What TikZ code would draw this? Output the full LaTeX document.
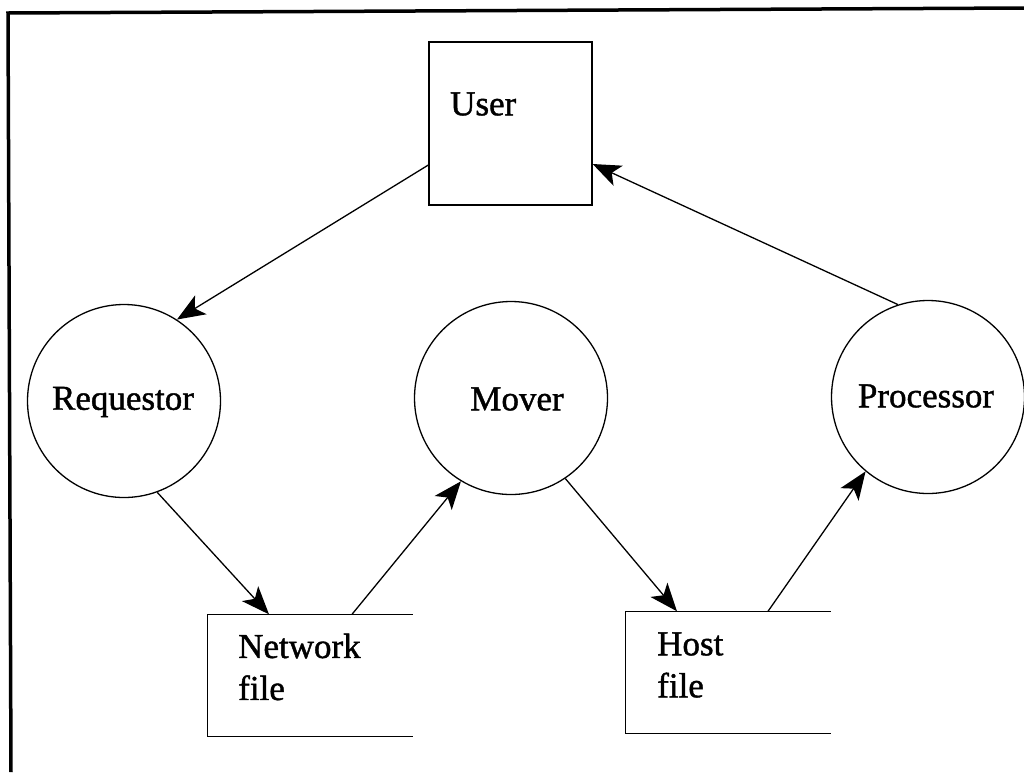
\documentclass[tikz,border=0pt]{standalone}
\usepackage{fontspec}
\setmainfont[FakeBold=1.2]{Liberation Serif}
\newfontfamily\heavyserif[FakeBold=1.2]{Liberation Serif}
\usetikzlibrary{arrows.meta,calc}
\begin{document}
\begin{tikzpicture}[x=1pt,y=-1pt,
  every node/.style={font=\heavyserif\fontsize{35}{42}\selectfont},
  proc/.style={circle,draw,line width=1.3pt,minimum size=193pt,inner sep=0pt},
  userbox/.style={rectangle,draw,line width=1.3pt,minimum width=163pt,minimum height=163pt,inner sep=0pt},
  filebox/.style={rectangle,minimum width=205pt,minimum height=122pt,inner sep=0pt},
  openside/.style={line width=1.3pt},
  lbl/.style={anchor=west,align=left,inner sep=0pt},
  flow/.style={line width=1.3pt,-{Stealth[length=28pt,width=22pt,inset=7pt]}},
  frame/.style={line width=3.5pt}]
\useasboundingbox (0,0) rectangle (1024,772);
% outer frame (top and left edges visible)
\coordinate (fc) at (8,13);
\coordinate (ftr) at (1024,8);
\coordinate (fbl) at (11,772);
\draw[frame] (ftr) -- (fc) -- (fbl);
% nodes
\node[userbox] (user) at (510.5,123.5) {};
\node[lbl] (userlbl) at (450,104) {User};
\node[proc] (req) at (124,401) {};
\node (reqlbl) at (123,402) {Requestor};
\node[proc] (mov) at (511,398) {};
\node (movlbl) at (517,399) {Mover};
\node[proc] (pro) at (928,397) {};
\node (prolbl) at (926,396) {Processor};
\node[filebox] (net) at (310,675.5) {};
\draw[openside] (net.north east) -- (net.north west) -- (net.south west) -- (net.south east);
\node[lbl] (netlbl) at (238,667) {Network\\file};
\node[filebox] (host) at (728,672.5) {};
\draw[openside] (host.north east) -- (host.north west) -- (host.south west) -- (host.south east);
\node[lbl] (hostlbl) at (657,665) {Host\\file};
% connectors
\draw[flow] ([yshift=-41.5pt]user.west) -- (req.57.6);
\draw[flow] (pro.108) -- ([yshift=-40.5pt]user.east);
\draw[flow] (req.-70) -- ([xshift=-41pt]net.north);
\draw[flow] ([xshift=42pt]net.north) -- (mov.-121);
\draw[flow] (mov.-56.6) -- ([xshift=-51pt]host.north);
\draw[flow] ([xshift=40pt]host.north) -- (pro.-130.2);
\end{tikzpicture}
\end{document}
